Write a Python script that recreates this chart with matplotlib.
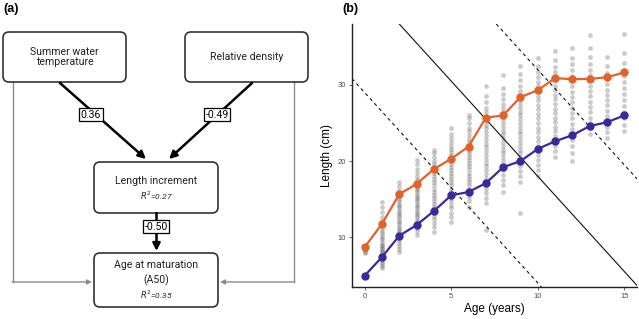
"""Path diagram (a) and length-at-age plot (b)."""

import matplotlib

matplotlib.use("Agg")
import matplotlib.pyplot as plt
from matplotlib.patches import FancyBboxPatch

# ---- panel (b) data -------------------------------------------------------
ages = list(range(16))
mean_length_orange = [8.7, 11.75, 15.65, 17.0, 18.95, 20.3, 21.9, 25.7, 26.0, 28.4,
                      29.3, 30.9, 30.75, 30.8, 31.0, 31.65]
mean_length_blue = [4.95, 7.4, 10.2, 11.6, 13.45, 15.5, 15.95, 17.1, 19.2, 20.0,
                    21.6, 22.6, 23.4, 24.6, 25.1, 26.0]

# individual lengths per age (cm)
obs_lengths = [
    [7.9, 8.1, 8.3, 8.5, 8.7, 8.9],
    [5.9, 6.2, 6.5, 6.8, 7.0, 7.2, 7.4, 7.6, 7.8, 8.0, 8.2, 8.4, 8.6, 8.8, 9.0, 9.3,
     9.6, 9.9, 10.2, 10.5, 10.8, 11.2, 11.6, 12.1, 12.7, 13.3, 14.0, 14.6],
    [8.0, 8.5, 8.9, 9.3, 9.6, 9.9, 10.2, 10.5, 10.8, 11.1, 11.4, 11.7, 12.0, 12.3,
     12.6, 12.9, 13.2, 13.5, 13.8, 14.1, 14.4, 14.7, 15.0, 15.4, 15.8, 16.2, 16.7, 17.2],
    [10.3, 10.8, 11.2, 11.6, 12.0, 12.3, 12.6, 12.9, 13.2, 13.5, 13.8, 14.1, 14.4,
     14.7, 15.0, 15.3, 15.6, 15.9, 16.2, 16.5, 16.8, 17.1, 17.5, 17.9, 18.4, 19.0, 19.6, 20.1],
    [10.7, 11.3, 11.9, 12.4, 12.8, 13.2, 13.6, 14.0, 14.4, 14.8, 15.2, 15.6, 16.0,
     16.4, 16.8, 17.2, 17.6, 18.0, 18.4, 18.8, 19.2, 19.6, 20.0, 20.5, 21.0, 21.4],
    [12.0, 12.6, 13.2, 13.8, 14.3, 14.8, 15.2, 15.6, 16.0, 16.4, 16.8, 17.2, 17.6,
     18.0, 18.4, 18.8, 19.2, 19.6, 20.0, 20.4, 20.8, 21.2, 21.6, 22.0, 22.5, 23.0, 23.6, 24.3],
    [14.0, 14.7, 15.3, 15.9, 16.4, 16.9, 17.3, 17.7, 18.1, 18.5, 18.9, 19.3, 19.7,
     20.1, 20.5, 20.9, 21.3, 21.7, 22.1, 22.5, 22.9, 23.4, 23.9, 24.4, 25.0, 25.6, 26.1],
    [11.0, 14.5, 15.2, 15.8, 16.3, 16.8, 17.3, 17.8, 18.3, 18.8, 19.3, 19.8, 20.3,
     20.8, 21.3, 21.8, 22.3, 22.8, 23.3, 23.8, 24.3, 24.8, 25.3, 25.8, 26.4, 27.0,
     27.8, 28.6, 29.8],
    [16.0, 16.8, 17.5, 18.2, 18.8, 19.4, 20.0, 20.5, 21.0, 21.5, 22.0, 22.5, 23.0,
     23.5, 24.0, 24.5, 25.0, 25.5, 26.0, 26.5, 27.0, 27.5, 28.1, 28.8, 29.6, 31.3],
    [13.2, 17.3, 18.0, 18.7, 19.3, 19.9, 20.5, 21.0, 21.5, 22.0, 22.5, 23.0, 23.5,
     24.0, 24.5, 25.0, 25.5, 26.0, 26.5, 27.0, 27.5, 28.0, 28.6, 29.2, 29.9, 30.7, 31.5, 32.5],
    [18.0, 18.8, 19.5, 20.2, 20.8, 21.4, 22.0, 22.6, 23.2, 23.8, 24.4, 25.0, 25.6,
     26.2, 26.8, 27.4, 28.0, 28.6, 29.2, 29.8, 30.4, 31.0, 31.7, 32.5, 33.5],
    [20.5, 21.3, 22.0, 22.7, 23.3, 23.9, 24.5, 25.1, 25.7, 26.3, 26.9, 27.5, 28.1,
     28.7, 29.3, 29.9, 30.5, 31.1, 31.7, 32.4, 33.3, 34.4],
    [20.0, 21.1, 22.0, 22.8, 23.5, 24.2, 24.9, 25.6, 26.3, 27.0, 27.7, 28.4, 29.1,
     29.8, 30.5, 31.2, 31.9, 32.7, 33.6, 34.9],
    [23.5, 24.3, 25.0, 25.7, 26.4, 27.1, 27.8, 28.5, 29.2, 29.9, 30.6, 31.3, 32.0,
     32.8, 33.7, 34.9, 36.5],
    [23.0, 23.8, 24.5, 25.2, 25.9, 26.6, 27.3, 28.0, 28.7, 29.4, 30.1, 30.8, 31.6, 32.5, 33.7],
    [23.9, 24.8, 25.6, 26.4, 27.2, 28.0, 28.8, 29.6, 30.4, 31.2, 32.0, 32.9, 34.2, 36.7],
]

# reference lines: length = intercept + slope * age
ref_slope = -2.5
ref_intercepts = [29, 43, 57]
ref_styles = ["--", "-", "--"]

# ---- panel (a) text --------------------------------------------------------
coef_temp = "0.36"
coef_density = "-0.49"
coef_increment = "-0.50"
r2_increment = "0.27"
r2_a50 = "0.35"

ORANGE = "#e2622a"
BLUE = "#372b9b"
EDGE = "#333333"
GREY = "#8c8c8c"
DIAG_FONT = ["Roboto", "DejaVu Sans"]
PLOT_FONT = ["Liberation Sans", "DejaVu Sans"]

fig = plt.figure(figsize=(6.39, 3.19), dpi=100)

# ---------------- panel (a): drawn in pixel coordinates ----------------------
axa = fig.add_axes([0, 0, 1, 1])
axa.set_xlim(0, 639)
axa.set_ylim(319, 0)
axa.axis("off")


def node(x0, y0, x1, y1):
    axa.add_patch(FancyBboxPatch((x0, y0), x1 - x0, y1 - y0,
                                 boxstyle="round,pad=0,rounding_size=6",
                                 fc="white", ec=EDGE, lw=1.2, zorder=3))


def label(x, y, txt, size=7.6, **kw):
    axa.text(x, y, txt, ha="center", va="center", fontsize=size, family=DIAG_FONT,
             color="#222222", zorder=4, **kw)


def coef_label(x, y, txt):
    axa.text(x, y, txt, ha="center", va="center", fontsize=7.6, family=DIAG_FONT, zorder=6,
             bbox=dict(boxstyle="square,pad=0.15", fc="white", ec="black", lw=0.9))


node(3, 32, 126, 82)
node(185, 32, 308, 82)
node(94, 162, 218, 213)
node(94, 253, 218, 307)

label(64.5, 57, "Summer water\ntemperature", linespacing=1.0)
label(246.5, 57, "Relative density")
label(156, 181, "Length increment")
label(156, 195.5, "$R^2$=" + r2_increment, size=6, style="italic")
label(156, 265, "Age at maturation")
label(156, 280, "(A50)")
label(156, 295, "$R^2$=" + r2_a50, size=6, style="italic")

# grey side paths
grey_arrow = dict(arrowstyle="-|>", color=GREY, lw=1, mutation_scale=7, shrinkA=0, shrinkB=0)
axa.plot([12.7, 12.7], [82, 282], color=GREY, lw=1, zorder=1)
axa.annotate("", xy=(92, 282), xytext=(12.2, 282), arrowprops=grey_arrow)
axa.plot([294.3, 294.3], [82, 282], color=GREY, lw=1, zorder=1)
axa.annotate("", xy=(220, 282), xytext=(294.8, 282), arrowprops=grey_arrow)

# black paths
black_arrow = dict(arrowstyle="-|>", color="black", lw=1.8, mutation_scale=11,
                   shrinkA=0, shrinkB=0)
axa.annotate("", xy=(146, 159), xytext=(60, 83), arrowprops=black_arrow)
axa.annotate("", xy=(169, 159), xytext=(252, 83), arrowprops=black_arrow)
axa.annotate("", xy=(156.5, 251), xytext=(156.5, 213), arrowprops=black_arrow)

coef_label(91, 114.5, coef_temp)
coef_label(217, 114.5, coef_density)
coef_label(156, 226.5, coef_increment)

axa.text(3, 9, "(a)", ha="left", va="center", fontsize=9, fontweight="bold", family=PLOT_FONT)
axa.text(342, 9, "(b)", ha="left", va="center", fontsize=9, fontweight="bold", family=PLOT_FONT)

# ---------------- panel (b) -------------------------------------------------
axb = fig.add_axes([352 / 639, (319 - 287) / 319, (637 - 352) / 639, (287 - 24) / 319])

for age, vals in zip(ages, obs_lengths):
    axb.scatter([age] * len(vals), vals, s=12, color="#555555", alpha=0.3,
                linewidths=0, zorder=1)

for b, ls in zip(ref_intercepts, ref_styles):
    axb.axline((0, b), slope=ref_slope, color="#111111", lw=0.8, ls=ls,
               dashes=(3, 3) if ls == "--" else (None, None), zorder=2)

axb.plot(ages, mean_length_orange, color=ORANGE, lw=1.6, marker="o", ms=5, zorder=3)
axb.plot(ages, mean_length_blue, color=BLUE, lw=1.6, marker="o", ms=5, zorder=3)

axb.set_xlim(-0.73, 15.73)
axb.set_ylim(3.47, 38.0)
axb.set_xticks([0, 5, 10, 15])
axb.set_yticks([10, 20, 30])
axb.tick_params(labelsize=5.5, labelcolor="#4d4d4d", color="#4d4d4d", length=2.5, width=0.6,
                pad=2)
for t in axb.get_xticklabels() + axb.get_yticklabels():
    t.set_family(PLOT_FONT)
for side in ("top", "right"):
    axb.spines[side].set_visible(False)
for side in ("left", "bottom"):
    axb.spines[side].set_linewidth(1.0)
    axb.spines[side].set_color("#222222")
axb.set_xlabel("Age (years)", fontsize=8.5, labelpad=2, family=PLOT_FONT)
axb.set_ylabel("Length (cm)", fontsize=8.5, labelpad=3, family=PLOT_FONT)

fig.savefig("out.png", dpi=100)
